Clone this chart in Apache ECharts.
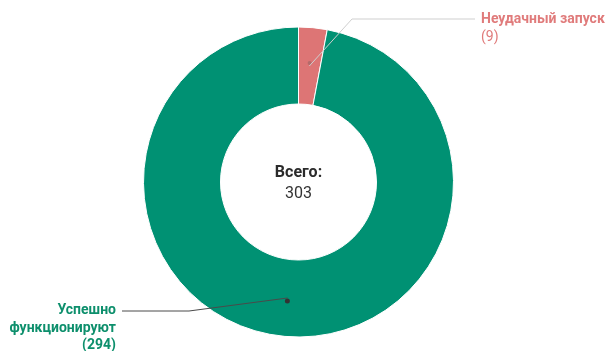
<!DOCTYPE html>
<html><head><meta charset="utf-8">
<script src="https://cdn.jsdelivr.net/npm/echarts@6/dist/echarts.min.js"></script>
<style>html,body{margin:0;padding:0;background:#fff}#c{width:609px;height:351px}</style>
</head><body><div id="c"></div>
<script>
const categories = ['Неудачный запуск', 'Успешно функционируют'];
const labelLines = [['Неудачный запуск'], ['Успешно', 'функционируют']];
const values = [9, 294];
const totalLabel = 'Всего:';
const colors = ['#dd7575', '#009173'];
const textColors = ['#e07b7b', '#0d8f6c'];
const lineColors = ['#cfcfcf', '#4a4a4a'];
const dotColors = ['#b36a6a', '#333333'];

const total = values.reduce((a, b) => a + b, 0);
const CX = 298.5, CY = 182, R0 = 78, R1 = 155;
const MID = (R0 + R1) / 2;

// mid angles (clockwise from top) derived from data
let acc = 0;
const midAngles = values.map(v => { const a = (acc + v / 2) / total * 2 * Math.PI; acc += v; return a; });
const dotPos = midAngles.map(a => [CX + MID * Math.sin(a), CY - MID * Math.cos(a)]);

const labelCfg = [
  { x: 481, y: 10, align: 'left', elbow: [352, 19], end: [475, 19] },
  { x: 116, y: 302, align: 'right', elbow: [189, 311], end: [122, 311] }
];

const data = categories.map((c, i) => ({
  name: c, value: values[i],
  itemStyle: { color: colors[i] }
}));

const chart = echarts.init(document.getElementById('c'), null, { renderer: 'canvas' });
chart.setOption({
  animation: false,
  backgroundColor: '#fff',
  title: {
    text: '{a|' + totalLabel + '}\n{b|' + total + '}',
    left: CX, top: CY - 20, textAlign: 'center', padding: 0,
    textStyle: {
      rich: {
        a: { fontFamily: 'Roboto', fontSize: 16, fontWeight: 'bold', color: '#2b2b2b', lineHeight: 21, align: 'center' },
        b: { fontFamily: 'Roboto', fontSize: 16, fontWeight: 'normal', color: '#333', lineHeight: 21, align: 'center' }
      }
    }
  },
  series: [
    {
      type: 'pie', radius: [R0, R1], center: [CX, CY], startAngle: 90, clockwise: true,
      silent: true, avoidLabelOverlap: false,
      itemStyle: { borderColor: '#fff', borderWidth: 1 },
      label: {
        show: true, position: 'inside',
        formatter: p => '{d' + p.dataIndex + '|}',
        rich: {
          d0: { width: 4, height: 4, borderRadius: 2, backgroundColor: dotColors[0] },
          d1: { width: 5, height: 5, borderRadius: 2.5, backgroundColor: dotColors[1] }
        }
      },
      labelLine: { show: false },
      data: data
    },
    {
      type: 'pie', radius: [0, MID], center: [CX, CY], startAngle: 90, clockwise: true,
      silent: true, avoidLabelOverlap: false, z: 5,
      itemStyle: { color: 'rgba(0,0,0,0)' },
      label: {
        show: true, position: 'outside',
        formatter: p => {
          const i = p.dataIndex;
          const tag = 't' + i;
          const lines = labelLines[i].map(s => '{' + tag + '|' + s + '}');
          const v = i === 0 ? '{n0|(' + p.value + ')}' : '{t1|(' + p.value + ')}';
          return lines.concat([v]).join('\n');
        },
        rich: {
          t0: { fontFamily: 'Roboto', fontSize: 14, fontWeight: 'bold', color: textColors[0], lineHeight: 18 },
          n0: { fontFamily: 'Roboto', fontSize: 14, fontWeight: 'normal', color: textColors[0], lineHeight: 18 },
          t1: { fontFamily: 'Roboto', fontSize: 14, fontWeight: 'bold', color: textColors[1], lineHeight: 17.5, align: 'right' }
        }
      },
      labelLine: { show: true, length: 10, length2: 10, lineStyle: { width: 1 } },
      labelLayout: p => {
        const i = p.dataIndex;
        const c = labelCfg[i];
        return {
          x: c.x, y: c.y, align: c.align, verticalAlign: 'top',
          labelLinePoints: [dotPos[i], c.elbow, c.end]
        };
      },
      data: categories.map((c, i) => ({
        name: c, value: values[i],
        labelLine: { lineStyle: { color: lineColors[i] } }
      }))
    }
  ]
});
</script></body></html>
